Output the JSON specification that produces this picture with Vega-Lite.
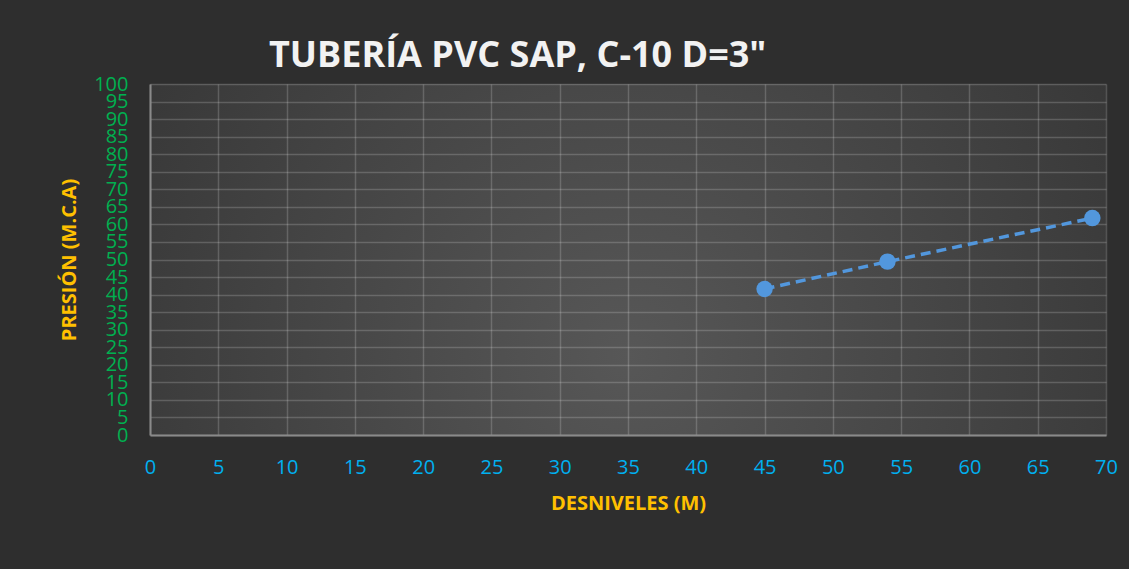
{
  "$schema": "https://vega.github.io/schema/vega-lite/v6.json",
  "autosize": {"type": "none"},
  "width": 956,
  "height": 351,
  "padding": {"left": 150, "top": 84, "right": 23, "bottom": 134},
  "background": "#2e2e2e",
  "title": {
    "text": "TUBERÍA PVC SAP, C-10 D=3\"",
    "anchor": "start",
    "frame": "group",
    "dx": 119,
    "dy": 47,
    "offset": 18,
    "baseline": "alphabetic",
    "font": "Open Sans",
    "fontSize": 36,
    "fontWeight": "bold",
    "color": "#f2f2f2"
  },
  "config": {
    "view": {
      "stroke": null,
      "fill": {
        "gradient": "radial",
        "x1": 0.5, "y1": 0.6, "r1": 0,
        "x2": 0.5, "y2": 0.6, "r2": 0.75,
        "stops": [
          {"offset": 0, "color": "#575757"},
          {"offset": 1, "color": "#2f2f2f"}
        ]
      }
    },
    "axis": {
      "labelFont": "Open Sans",
      "titleFont": "Open Sans",
      "gridColor": "#ffffff",
      "gridOpacity": 0.18,
      "gridWidth": 1.5,
      "domainColor": "#8a8a8a",
      "domainWidth": 2,
      "ticks": false,
      "tickSize": 0,
      "labelOverlap": false,
      "labelFlush": false,
      "labelBound": false
    }
  },
  "data": {
    "values": [
      {"desnivel": 45, "presion": 41.6},
      {"desnivel": 54, "presion": 49.4},
      {"desnivel": 69, "presion": 61.8}
    ]
  },
  "encoding": {
    "x": {
      "field": "desnivel", "type": "quantitative",
      "scale": {"domain": [0, 70], "nice": false, "zero": true},
      "axis": {
        "values": [0,5,10,15,20,25,30,35,40,45,50,55,60,65,70],
        "title": "DESNIVELES (M)",
        "titleColor": "#FFC000",
        "titleFontSize": 20,
        "titleFontWeight": "bold",
        "titlePadding": 16,
        "labelColor": "#00B0F0",
        "labelFontSize": 20,
        "labelPadding": 22
      }
    },
    "y": {
      "field": "presion", "type": "quantitative",
      "scale": {"domain": [0, 100], "nice": false},
      "axis": {
        "values": [0,5,10,15,20,25,30,35,40,45,50,55,60,65,70,75,80,85,90,95,100],
        "title": "PRESIÓN (M.C.A)",
        "titleColor": "#FFC000",
        "titleFontSize": 20,
        "titleFontWeight": "bold",
        "titlePadding": 14,
        "labelColor": "#00B050",
        "labelFontSize": 20,
        "labelPadding": 22
      }
    }
  },
  "layer": [
    {
      "mark": {"type": "line", "color": "#5297DD", "strokeWidth": 3.5, "strokeDash": [10, 6]}
    },
    {
      "mark": {"type": "circle", "color": "#5297DD", "opacity": 1, "size": 270}
    }
  ]
}
